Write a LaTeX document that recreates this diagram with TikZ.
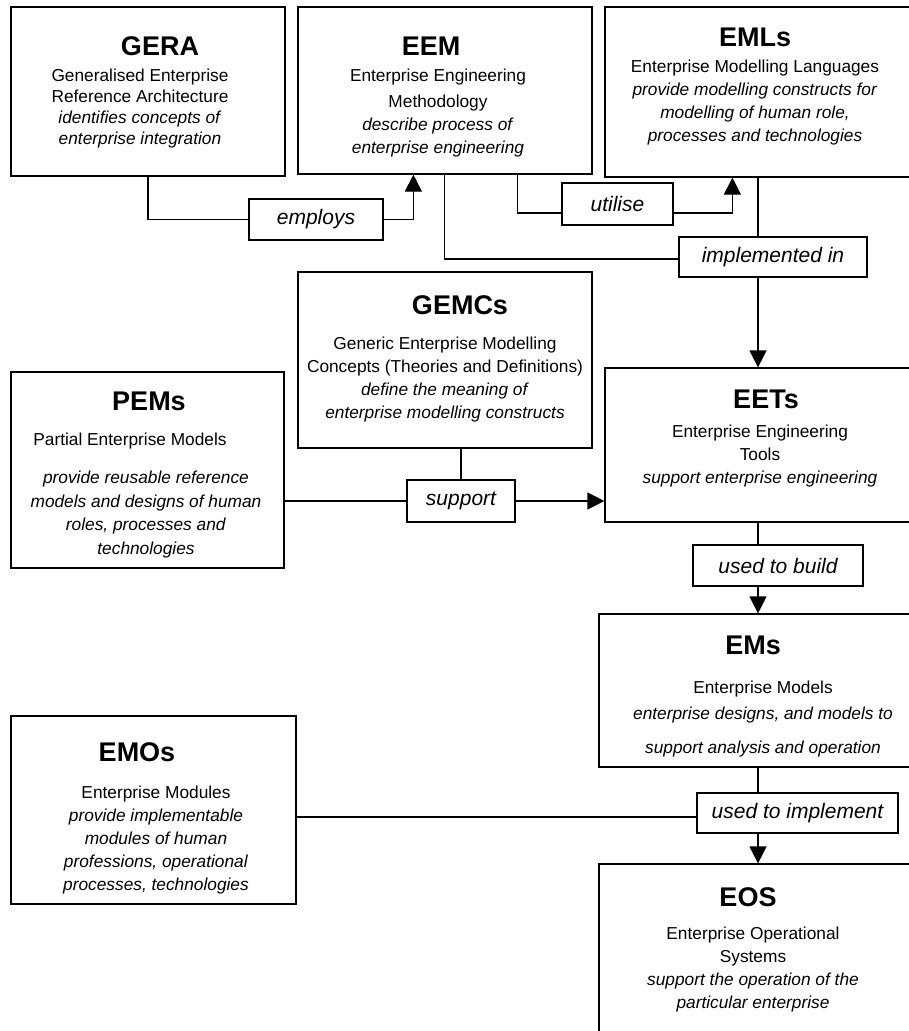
\documentclass[tikz,border=0pt]{standalone}
\usepackage{fontspec}
\setmainfont{Liberation Sans}
\usetikzlibrary{arrows.meta, positioning}

\begin{document}
\begin{tikzpicture}[x=1pt, y=-1pt, >={Triangle[length=17pt, width=17pt]}, line width=1.2pt]
          % Styles for boxes, headings and connector tags
          \tikzstyle{block} = [draw, rectangle, inner sep=0pt]
          \tikzstyle{heading} = [inner sep=0pt, font=\fontsize{27}{30}\selectfont\bfseries]
          \tikzstyle{desc} = [inner sep=0pt, align=center, font=\fontsize{17.3}{23}\selectfont]
          \tikzstyle{tag} = [draw, rectangle, inner sep=0pt, font=\fontsize{21}{24}\selectfont\itshape]

          \useasboundingbox (0,0) rectangle (909,1031);
          \clip (0,0) rectangle (909,1031);

          % Boxes
          \node [block, minimum width=274pt, minimum height=169pt] at (148,91.5) (gera) {};
          \node [block, minimum width=294pt, minimum height=167pt] at (445,90.5) (eem) {};
          \node [block, minimum width=310pt, minimum height=170pt] at (760,92) (emls) {};
          \node [block, minimum width=294pt, minimum height=176pt] at (445,360) (gemcs) {};
          \node [block, minimum width=273pt, minimum height=196pt] at (147.5,470) (pems) {};
          \node [block, minimum width=310pt, minimum height=154pt] at (760,445) (eets) {};
          \node [block, minimum width=316pt, minimum height=153pt] at (757,690.5) (ems) {};
          \node [block, minimum width=285pt, minimum height=188pt] at (153.5,810) (emos) {};
          \node [block, minimum width=316pt, minimum height=196pt] at (757,962) (eos) {};
          \node [coordinate] at (758,0) (spine) {}; % vertical line on the right

          % Box texts
          \node [heading] at (160,46) (gera-t) {GERA};
          \node [desc, font=\fontsize{17.3}{21}\selectfont, below=12pt of gera-t, xshift=-20pt] (gera-d)
            {Generalised Enterprise\\Reference Architecture\\\textit{identifies concepts of}\\\textit{enterprise integration}};
          \node [heading] at (431,46) (eem-t) {EEM};
          \node [desc, below=12pt of eem-t, xshift=7pt] (eem-d)
            {Enterprise Engineering\\[3pt]Methodology\\\textit{describe process of}\\\textit{enterprise engineering}};
          \node [heading] at (755,37) (emls-t) {EMLs};
          \node [desc, below=12pt of emls-t] (emls-d)
            {Enterprise Modelling Languages\\\textit{provide modelling constructs for}\\\textit{modelling of human role,}\\\textit{processes and technologies}};
          \node [heading] at (460,305) (gemcs-t) {GEMCs};
          \node [desc, below=21pt of gemcs-t, xshift=-15pt] (gemcs-d)
            {Generic Enterprise Modelling\\Concepts (Theories and Definitions)\\\textit{define the meaning of}\\\textit{enterprise modelling constructs}};
          \node [heading] at (149,401) (pems-t) {PEMs};
          \node [desc, font=\fontsize{17.3}{23.5}\selectfont, below=21pt of pems-t, xshift=-3pt] (pems-d)
            {Partial Enterprise Models\hspace*{32pt}\\[15pt]\textit{provide reusable reference}\\\textit{models and designs of human}\\\textit{roles, processes and}\\\textit{technologies}};
          \node [heading] at (766,399) (eets-t) {EETs};
          \node [desc, below=15pt of eets-t, xshift=-6pt] (eets-d)
            {Enterprise Engineering\\Tools\\\textit{support enterprise engineering}};
          \node [heading] at (753,645) (ems-t) {EMs};
          \node [desc, below=25pt of ems-t, xshift=10pt] (ems-d)
            {Enterprise Models\\[3pt]\textit{enterprise designs, and models to}\\[11pt]\textit{support analysis and operation}};
          \node [heading] at (137,752) (emos-t) {EMOs};
          \node [desc, below=23pt of emos-t, xshift=19pt] (emos-d)
            {Enterprise Modules\\\textit{provide implementable}\\\textit{modules of human}\\\textit{professions, operational}\\\textit{processes, technologies}};
          \node [heading] at (748,897) (eos-t) {EOS};
          \node [desc, below=19pt of eos-t, xshift=5pt] (eos-d)
            {Enterprise Operational\\Systems\\\textit{support the operation of the}\\\textit{particular enterprise}};

          % Connector tags
          \node [tag, minimum width=134pt, minimum height=41pt] at (316,219.5) (employs) {employs};
          \node [tag, minimum width=111pt, minimum height=42pt] at (617.5,204) (utilise) {utilise};
          \node [tag, minimum width=188pt, minimum height=40pt] at (773,257) (implemented) {implemented in};
          \node [tag, minimum width=108pt, minimum height=42pt] at (461,501) (support) {support};
          \node [tag, minimum width=170pt, minimum height=41pt] at (778,565.5) (build) {used to build};
          \node [tag, minimum width=201pt, minimum height=40pt] at (797.5,813) (uimpl) {used to implement};
          \coordinate (utilise-in) at ([yshift=-9pt]utilise.west);
          \coordinate (utilise-out) at ([yshift=-9pt]utilise.east);
          \coordinate (impl-in) at ([yshift=-2pt]implemented.west);
          \coordinate (uimpl-in) at ([yshift=-4pt]uimpl.west);

          % Connections
          \draw (gera.south) |- (employs.west);
          \draw [->] (employs.east) -| ([xshift=116pt]eem.south west);
          \draw ([xshift=220pt]eem.south west) |- (utilise-in);
          \draw [->] (utilise-out) -| ([xshift=128pt]emls.south west);
          \draw ([xshift=147pt]eem.south west) |- (impl-in);
          \draw (spine |- emls.south) -- (spine |- implemented.north);
          \draw [->] (spine |- implemented.south) -- (spine |- eets.north);
          \draw (gemcs.south -| support.north) -- (support.north);
          \draw (pems.east |- support.west) -- (support.west);
          \draw [->] (support.east) -- (support.east -| eets.west);
          \draw (spine |- eets.south) -- (spine |- build.north);
          \draw [->] (spine |- build.south) -- (spine |- ems.north);
          \draw (spine |- ems.south) -- (spine |- uimpl.north);
          \draw (emos.east |- uimpl-in) -- (uimpl-in);
          \draw [->] (spine |- uimpl.south) -- (spine |- eos.north);
        \end{tikzpicture}
\end{document}
